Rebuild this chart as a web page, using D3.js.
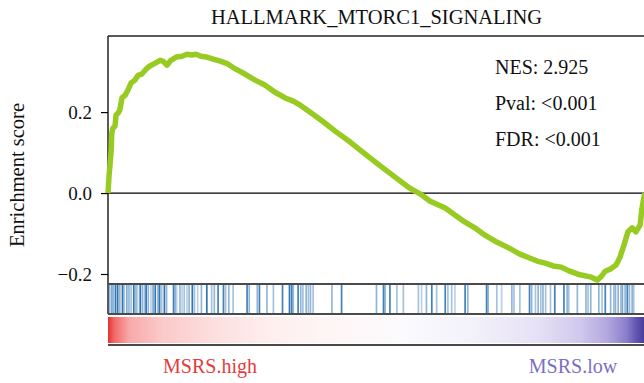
<!DOCTYPE html>
<html>
<head>
<meta charset="utf-8">
<script src="https://cdn.jsdelivr.net/npm/d3@7"></script>
<style>
  html, body { margin: 0; padding: 0; background: #fff; }
  svg { display: block; font-family: "Liberation Serif", "Times New Roman", serif; }
</style>
</head>
<body>
<svg id="chart" width="644" height="383"></svg>
<script>
// Gene set and statistics
const title = "HALLMARK_MTORC1_SIGNALING";
const statLabels = ["NES: 2.925", "Pval: <0.001", "FDR: <0.001"];
const groupLabels = ["MSRS.high", "MSRS.low"];
const yTicks = [-0.2, 0.0, 0.2];

// Running enrichment score: position in ranked list (%) and score
const esRank = [0, 0.2, 0.4, 0.6, 0.7, 0.9, 1.3, 1.5, 1.9, 2.2, 2.6, 3.2, 3.7, 4.3, 5.0, 5.6, 6.3, 7.1, 7.8, 8.8,
  9.7, 10.2, 11.0, 11.7, 12.7, 13.8, 14.7, 15.6, 16.4, 17.3, 18.4, 19.6, 20.9, 22.3, 23.8, 25.5, 27.4, 29.2, 31.1,
  33.0, 34.5, 35.8, 37.6, 39.9, 42.3, 45.1, 47.9, 50.7, 53.4, 56.2, 58.1, 60.0, 62.8, 64.6, 66.5, 68.3, 70.2, 72.4,
  74.7, 76.7, 78.4, 79.9, 81.4, 82.9, 84.4, 86.0, 87.9, 89.8, 91.1, 91.8, 92.6, 93.5, 94.6, 95.3, 96.1, 96.8, 97.6,
  98.3, 99.1, 99.4, 99.8, 100];
const esScore = [0, 0.044, 0.074, 0.106, 0.148, 0.160, 0.165, 0.193, 0.198, 0.205, 0.235, 0.242, 0.254, 0.272, 0.279,
  0.291, 0.294, 0.306, 0.314, 0.321, 0.328, 0.326, 0.316, 0.328, 0.336, 0.338, 0.343, 0.341, 0.343, 0.338, 0.336,
  0.331, 0.326, 0.319, 0.306, 0.294, 0.279, 0.267, 0.249, 0.235, 0.227, 0.217, 0.200, 0.178, 0.153, 0.126, 0.096,
  0.067, 0.040, 0.012, -0.002, -0.020, -0.037, -0.054, -0.072, -0.086, -0.104, -0.121, -0.136, -0.151, -0.160,
  -0.168, -0.173, -0.180, -0.183, -0.193, -0.202, -0.207, -0.215, -0.207, -0.193, -0.188, -0.178, -0.160, -0.128,
  -0.096, -0.086, -0.096, -0.079, -0.042, -0.010, 0];

// Gene set members: position in ranked list (%) and hit weight
const hitRank = [0.3, 0.7, 1.0, 1.4, 1.8, 2.2, 2.7, 3.0, 3.5, 3.9, 4.3, 4.8, 5.2, 5.5, 6.0, 6.4, 6.8, 7.1, 7.5, 8.0,
  8.4, 8.8, 9.3, 9.6, 10.0, 10.5, 10.9, 12.2, 12.5, 12.8, 13.4, 13.8, 14.2, 14.7, 15.1, 15.7, 16.1, 16.7, 17.4, 18.4,
  19.3, 19.8, 20.5, 21.5, 21.9, 22.5, 23.3, 25.9, 26.3, 27.8, 28.2, 29.6, 30.8, 32.5, 33.8, 34.2, 34.5, 35.4, 35.9,
  36.3, 36.9, 37.3, 37.7, 38.2, 41.7, 43.5, 50.0, 51.3, 51.6, 52.5, 53.8, 55.0, 57.8, 58.4, 59.3, 60.3, 61.2, 62.8,
  63.3, 64.0, 64.6, 66.5, 67.0, 70.5, 70.8, 72.4, 73.3, 75.2, 75.6, 76.7, 78.5, 78.9, 79.6, 80.1, 80.6, 81.0, 81.5,
  82.4, 83.2, 84.9, 85.5, 85.8, 87.4, 89.0, 89.4, 89.9, 91.4, 92.0, 92.6, 93.6, 94.2, 94.5, 95.0, 95.5, 95.8, 96.3,
  96.7, 97.1, 97.6, 97.9];
const hitWeight = [0.5, 0.6, 0.5, 1, 1, 0.5, 1, 0.4, 0.6, 0.5, 0.4, 1, 0.5, 0.3, 1, 0.5, 0.4, 1, 0.5, 0.3,
  0.6, 1, 0.5, 1, 0.4, 1, 0.5, 0.9, 0.5, 0.3, 0.5, 0.3, 0.4, 0.3, 0.5, 1, 0.4, 0.3, 0.5, 1,
  0.4, 0.5, 0.9, 0.9, 0.4, 0.5, 0.4, 0.9, 0.5, 0.5, 0.9, 0.5, 0.4, 0.9, 1, 0.9, 0.5, 0.9, 0.5,
  0.4, 0.5, 0.4, 0.5, 0.4, 0.5, 0.9, 0.5, 0.9, 0.5, 0.9, 0.4, 0.4, 0.4, 0.3, 0.5, 0.9, 0.4, 0.9,
  0.4, 0.4, 0.3, 0.9, 0.5, 0.9, 0.5, 0.4, 0.3, 0.5, 0.4, 0.4, 0.9, 0.5, 0.4, 0.5, 0.4, 0.5, 0.4,
  0.4, 0.9, 0.9, 0.5, 0.4, 0.5, 0.5, 0.4, 0.5, 0.5, 0.4, 0.9, 0.5, 0.4, 0.5, 0.5, 0.4, 0.6, 0.5,
  0.9, 0.5, 0.5, 0.4];

// Layout
const left = 108, right = 645;
const esTop = 36, esBottom = 284;
const hitBottom = 314;
const barTop = 317, barBottom = 343, baseLine = 345;

const svg = d3.select("#chart");

const x = d3.scaleLinear().domain([0, 100]).range([left, right]);
const y = d3.scaleLinear().domain([-0.2247, 0.388]).range([esBottom, esTop]);

// Title
svg.append("text")
  .attr("x", (left + right) / 2).attr("y", 24)
  .attr("text-anchor", "middle")
  .attr("font-size", 20.5).attr("fill", "#111")
  .text(title);

// Y axis
const yAxis = d3.axisLeft(y).tickValues(yTicks).tickFormat(d3.format(".1f")).tickSize(7).tickPadding(9);
const gy = svg.append("g").attr("transform", `translate(${left},0)`).call(yAxis);
gy.select(".domain").remove();
gy.selectAll(".tick line").attr("stroke", "#000").attr("stroke-width", 1.2);
gy.selectAll(".tick text").attr("font-size", 19).attr("font-family", "Liberation Serif, serif").attr("fill", "#111");

svg.append("text")
  .attr("transform", `translate(24,175) rotate(-90)`)
  .attr("text-anchor", "middle")
  .attr("font-size", 20.5).attr("fill", "#111")
  .text("Enrichment score");

// Panel frame lines
svg.append("line").attr("x1", left).attr("x2", left).attr("y1", esTop).attr("y2", hitBottom)
  .attr("stroke", "#000").attr("stroke-width", 1.3);
svg.append("line").attr("x1", left).attr("x2", right).attr("y1", esTop).attr("y2", esTop)
  .attr("stroke", "#222").attr("stroke-width", 1.3);
svg.append("line").attr("x1", left).attr("x2", right).attr("y1", y(0)).attr("y2", y(0))
  .attr("stroke", "#000").attr("stroke-width", 1.2);

// Hit strip
const hitOpacity = d3.scaleLinear().domain([0, 1]).range([0.05, 1]);
svg.append("g").selectAll("line")
  .data(hitRank.map((r, i) => ({ r, w: hitWeight[i] })))
  .join("line")
  .attr("x1", d => x(d.r)).attr("x2", d => x(d.r))
  .attr("y1", esBottom + 1).attr("y2", hitBottom - 1)
  .attr("stroke", "#2f74b3")
  .attr("stroke-width", 1.7)
  .attr("stroke-opacity", d => hitOpacity(d.w));

// Ranked-metric colour bar
const defs = svg.append("defs");
const grad = defs.append("linearGradient").attr("id", "rankGrad").attr("x1", "0%").attr("x2", "100%");
[[0, "#e8302f"], [0.012, "#f26a6a"], [0.04, "#f8a9a9"], [0.1, "#fbc9c9"], [0.2, "#fddfdf"], [0.3, "#feeeee"],
 [0.42, "#fef6f6"], [0.55, "#fbfafd"], [0.68, "#f3f1fb"], [0.8, "#e6e1f5"], [0.88, "#d0c8ed"], [0.93, "#b3a7df"],
 [0.965, "#8b7ecb"], [0.985, "#5f52b0"], [1, "#463a99"]]
  .forEach(([o, c]) => grad.append("stop").attr("offset", o).attr("stop-color", c));
svg.append("rect").attr("x", left).attr("y", barTop).attr("width", right - left).attr("height", barBottom - barTop)
  .attr("fill", "url(#rankGrad)");

// Separator lines around hit strip and colour bar
[esBottom, hitBottom, baseLine].forEach(v => {
  svg.append("line").attr("x1", left).attr("x2", right).attr("y1", v).attr("y2", v)
    .attr("stroke", "#4a4a4a").attr("stroke-width", 2);
});

// Running enrichment score curve
const line = d3.line().x(d => x(d[0])).y(d => y(d[1]));
svg.append("path")
  .datum(esRank.map((r, i) => [r, esScore[i]]))
  .attr("d", line)
  .attr("fill", "none")
  .attr("stroke", "#98cb22")
  .attr("stroke-width", 5.5)
  .attr("stroke-linejoin", "round");

// Statistics
svg.append("g").selectAll("text").data(statLabels).join("text")
  .attr("x", 495).attr("y", (d, i) => 74 + i * 36)
  .attr("font-size", 20).attr("fill", "#111")
  .text(d => d);

// Group labels
svg.append("text").attr("x", 210).attr("y", 373).attr("text-anchor", "middle")
  .attr("font-size", 20).attr("fill", "#e53b3b").text(groupLabels[0]);
svg.append("text").attr("x", 573).attr("y", 373).attr("text-anchor", "middle")
  .attr("font-size", 20).attr("fill", "#7a6fc6").text(groupLabels[1]);
</script>
</body>
</html>
